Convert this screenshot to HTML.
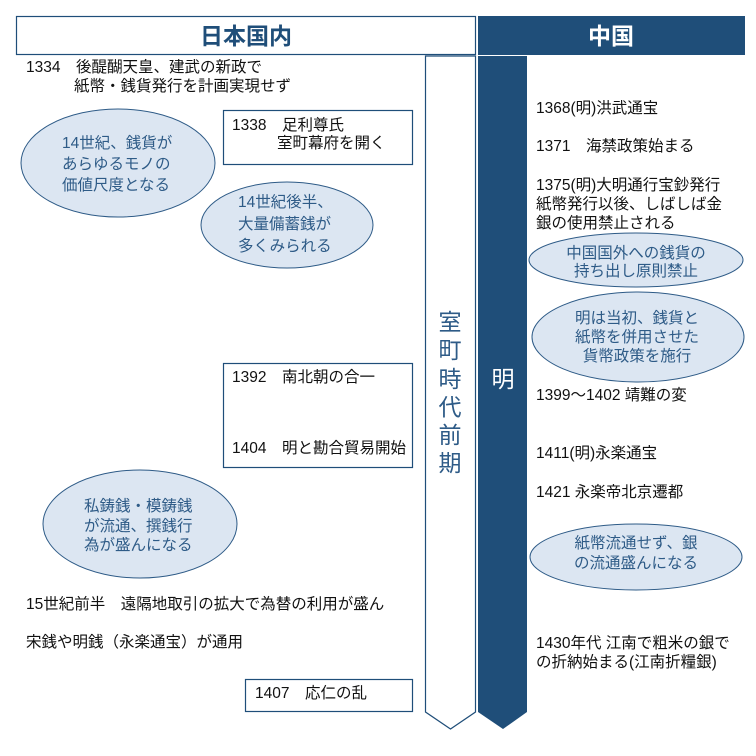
<!DOCTYPE html>
<html><head><meta charset="utf-8"><style>
html,body{margin:0;padding:0;background:#fff;}
svg{display:block;}
text{font-family:"Liberation Sans","Noto Sans CJK JP",sans-serif;}
.t{font-size:15.5px;fill:#111;}
.e{font-size:15.5px;fill:#2e5b87;}
.el{fill:#dce6f2;stroke:#2e5b87;stroke-width:1;}
.bx{fill:#fff;stroke:#1f4e79;stroke-width:1.2;}
</style></head><body>
<svg width="756" height="756" viewBox="0 0 756 756">
<rect x="16.5" y="16.5" width="459" height="38" fill="#fff" stroke="#1f4e79" stroke-width="1.2"/>
<text x="246" y="44" font-size="23" font-weight="bold" fill="#1f4e79" text-anchor="middle">日本国内</text>
<rect x="478" y="16" width="267" height="39" fill="#1f4e79"/>
<text x="611" y="44" font-size="23" font-weight="bold" fill="#fff" text-anchor="middle">中国</text>
<polygon points="425.5,56 475.5,56 475.5,712 450.5,729 425.5,712" fill="#fff" stroke="#1f4e79" stroke-width="1.2"/>
<polygon points="478,56 527,56 527,712 503,729 478,712" fill="#1f4e79"/>
<g font-size="23" fill="#2e5b87" text-anchor="middle">
<text x="450" y="330">室</text><text x="450" y="358">町</text><text x="450" y="387">時</text><text x="450" y="415">代</text><text x="450" y="443">前</text><text x="450" y="471">期</text>
</g>
<text x="503" y="387" font-size="23" fill="#fff" text-anchor="middle">明</text>

<text class="t" x="26" y="72">1334　後醍醐天皇、建武の新政で</text>
<text class="t" x="74" y="91">紙幣・銭貨発行を計画実現せず</text>

<rect class="bx" x="223.5" y="110.5" width="189" height="54"/>
<text class="t" x="232" y="130">1338　足利尊氏</text>
<text class="t" x="277" y="148">室町幕府を開く</text>

<ellipse class="el" cx="118" cy="163" rx="97" ry="54"/>
<text class="e" x="62" y="148">14世紀、銭貨が</text>
<text class="e" x="62" y="169">あらゆるモノの</text>
<text class="e" x="62" y="190">価値尺度となる</text>

<ellipse class="el" cx="287" cy="225" rx="86" ry="43"/>
<text class="e" x="238" y="207">14世紀後半、</text>
<text class="e" x="238" y="229">大量備蓄銭が</text>
<text class="e" x="238" y="251">多くみられる</text>

<rect class="bx" x="223.5" y="363.5" width="189" height="104"/>
<text class="t" x="232" y="382">1392　南北朝の合一</text>
<text class="t" x="232" y="453">1404　明と勘合貿易開始</text>

<ellipse class="el" cx="140" cy="524" rx="97" ry="54"/>
<text class="e" x="84" y="511">私鋳銭・模鋳銭</text>
<text class="e" x="84" y="531">が流通、撰銭行</text>
<text class="e" x="84" y="550">為が盛んになる</text>

<text class="t" x="26" y="609">15世紀前半　遠隔地取引の拡大で為替の利用が盛ん</text>
<text class="t" x="26" y="647">宋銭や明銭（永楽通宝）が通用</text>

<rect class="bx" x="245.5" y="679.5" width="167" height="32"/>
<text class="t" x="255" y="698">1407　応仁の乱</text>

<text class="t" x="536" y="113">1368(明)洪武通宝</text>
<text class="t" x="536" y="151">1371　海禁政策始まる</text>
<text class="t" x="536" y="190">1375(明)大明通行宝鈔発行</text>
<text class="t" x="536" y="209">紙幣発行以後、しばしば金</text>
<text class="t" x="536" y="228">銀の使用禁止される</text>

<ellipse class="el" cx="636" cy="260" rx="107" ry="27"/>
<text class="e" x="636" y="258" font-size="14" text-anchor="middle">中国国外への銭貨の</text>
<text class="e" x="636" y="276" font-size="14" text-anchor="middle">持ち出し原則禁止</text>

<ellipse class="el" cx="638" cy="337" rx="106" ry="45"/>
<text class="e" x="637" y="323" text-anchor="middle">明は当初、銭貨と</text>
<text class="e" x="637" y="342" text-anchor="middle">紙幣を併用させた</text>
<text class="e" x="637" y="361" text-anchor="middle">貨幣政策を施行</text>

<text class="t" x="536" y="400">1399～1402  靖難の変</text>
<text class="t" x="536" y="458">1411(明)永楽通宝</text>
<text class="t" x="536" y="497">1421  永楽帝北京遷都</text>

<ellipse class="el" cx="636" cy="557" rx="106" ry="33"/>
<text class="e" x="636" y="548" text-anchor="middle">紙幣流通せず、銀</text>
<text class="e" x="636" y="568" text-anchor="middle">の流通盛んになる</text>

<text class="t" x="536" y="648">1430年代  江南で粗米の銀で</text>
<text class="t" x="536" y="667">の折納始まる(江南折糧銀)</text>
</svg>
</body></html>
